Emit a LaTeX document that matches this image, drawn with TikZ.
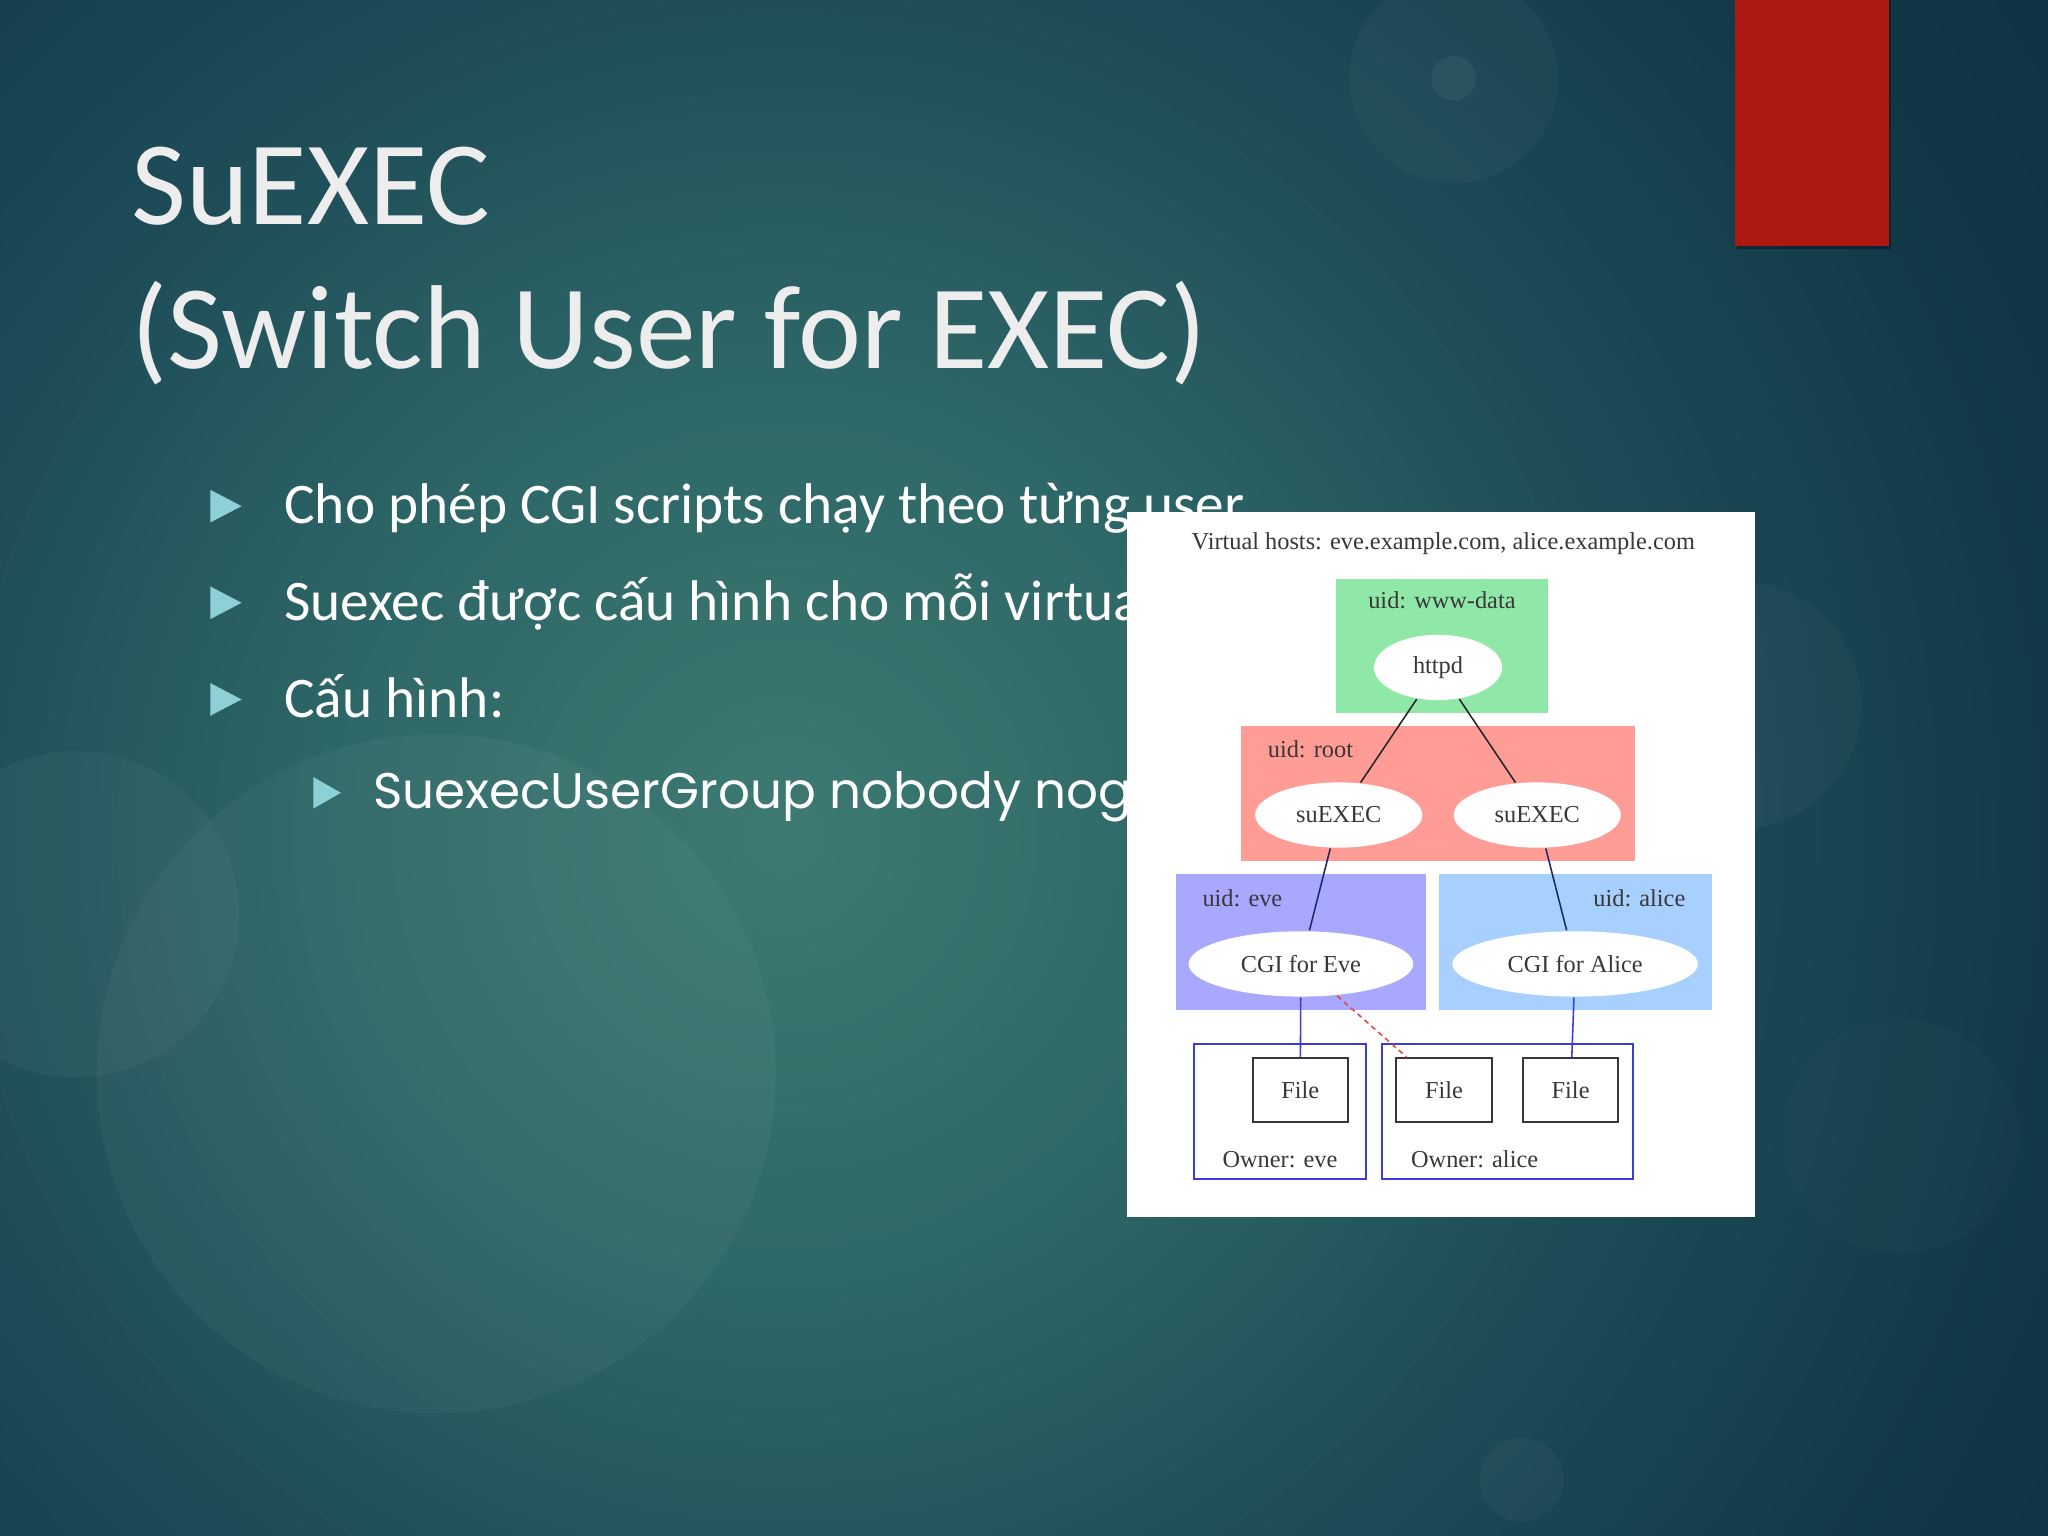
\documentclass[tikz,border=0pt]{standalone}
\usepackage{fontspec}
\setmainfont{Carlito}
\newfontfamily\geofont{Poppins}
\newfontfamily\diagfont{Liberation Serif}
\usetikzlibrary{shapes.geometric}
\newcommand\pxu{0.1mm}
\definecolor{bgA}{HTML}{3E7B72}
\definecolor{bgB}{HTML}{2E6767}
\definecolor{bgC}{HTML}{1C4A56}
\definecolor{bgD}{HTML}{123848}
\definecolor{bgE}{HTML}{0D3041}
\definecolor{bulc}{HTML}{8DD0D5}
\definecolor{redbar}{HTML}{AD1813}
\definecolor{grnbox}{HTML}{90E8A8}
\definecolor{redbox}{HTML}{FF9C96}
\definecolor{evebox}{HTML}{A8A8FF}
\definecolor{alicebox}{HTML}{A8D0FF}
\definecolor{dtxt}{HTML}{383838}
\definecolor{blueln}{HTML}{3C3CDC}
\definecolor{navyln}{HTML}{1E2A66}
\definecolor{dashred}{HTML}{E04848}
\tikzset{
  titletext/.style={text=white!93!black, font=\fontsize{26pt}{30pt}\selectfont, inner sep=0pt, anchor=base west},
  bodytext/.style={text=white, font=\fontsize{12.5pt}{15pt}\selectfont, inner sep=0pt, anchor=base west},
  subtext/.style={text=white, font=\geofont\fontsize{10.9pt}{13pt}\selectfont, inner sep=0pt, anchor=base west},
  dtext/.style={text=dtxt, font=\diagfont\fontsize{5.3pt}{6pt}\selectfont, inner sep=0pt},
  cluster/.style={rectangle, inner sep=0pt, draw=none},
  oval/.style={ellipse, fill=white, draw=none, inner sep=0pt, text=dtxt, font=\diagfont\fontsize{5.3pt}{6pt}\selectfont},
  filebox/.style={rectangle, fill=white, draw=dtxt, line width=1.5*\pxu, inner sep=0pt, text=dtxt, font=\diagfont\fontsize{5.3pt}{6pt}\selectfont, minimum width=73*\pxu, minimum height=49*\pxu},
  ownerbox/.style={rectangle, fill=white, draw=blueln, line width=1.5*\pxu, inner sep=0pt},
  edge/.style={line width=1.2*\pxu, draw=black!85},
  edgenavy/.style={line width=1.2*\pxu, draw=navyln},
  edgeblue/.style={line width=1.2*\pxu, draw=blueln},
  edgedash/.style={line width=1.2*\pxu, draw=dashred, dash pattern=on 4*\pxu off 3*\pxu},
  bokeh/.style={fill=white, opacity=#1},
}
\begin{document}
\begin{tikzpicture}[x=0.1mm, y=-0.1mm]
\useasboundingbox (0,0) rectangle (1568,1176);
% background
\begin{scope}
\clip (0,0) rectangle (1568,1176);
\fill[bgE] (0,0) rectangle (1568,1176);
\foreach \rr in {1500,1485,...,0}{
  \pgfmathtruncatemacro\seg{\rr>1000 ? 4 : (\rr>700 ? 3 : (\rr>350 ? 2 : 1))}
  \ifcase\seg\or
    \pgfmathtruncatemacro\tv{(350-\rr)/3.5}\colorlet{cc}{bgA!\tv!bgB}
  \or
    \pgfmathtruncatemacro\tv{(700-\rr)/3.5}\colorlet{cc}{bgB!\tv!bgC}
  \or
    \pgfmathtruncatemacro\tv{(1000-\rr)/3}\colorlet{cc}{bgC!\tv!bgD}
  \or
    \pgfmathtruncatemacro\tv{max(0,(1300-\rr)/3)}\colorlet{cc}{bgD!\tv!bgE}
  \fi
  \fill[cc] (600,640) circle (\rr);
}
\fill[bokeh=0.035] (334,822) circle (260);
\fill[bokeh=0.035] (58,700) circle (125);
\fill[bokeh=0.03] (1113,60) circle (80);
\fill[bokeh=0.05] (1113,60) circle (17);
\fill[bokeh=0.03] (1330,540) circle (95);
\fill[bokeh=0.03] (1165,1133) circle (32);
\fill[bokeh=0.015] (1455,870) circle (90);
\end{scope}
% red bar with shadow
\fill[black, opacity=0.35] (1330,0) rectangle (1448,191);
\fill[redbar] (1328,0) rectangle (1446,188);
% title
\node[titletext] (t1) at (100,172) {SuEXEC};
\node[titletext] (t2) at (100,282) {(Switch User for EXEC)};
% bullets
\fill[bulc] (161,375) -- (185,387.5) -- (161,400) -- cycle;
\fill[bulc] (161,449) -- (185,461.5) -- (161,474) -- cycle;
\fill[bulc] (161,523) -- (185,535.5) -- (161,548) -- cycle;
\fill[bulc] (240,595) -- (261,607) -- (240,619) -- cycle;
\node[bodytext] (b1) at (217,401) {Cho phép CGI scripts chạy theo từng user};
\node[bodytext] (b2) at (217,475) {Suexec được cấu hình cho mỗi virtual};
\node[bodytext] (b3) at (217,549) {Cấu hình:};
\node[subtext] (b4) at (285,619) {SuexecUserGroup nobody nog};
% diagram panel
\fill[white] (863,392) rectangle (1344,932);
\node[dtext] (vh) at (1105,416.5) {Virtual hosts: eve.example.com, alice.example.com};
% clusters
\node[cluster, fill=grnbox, minimum width=162*\pxu, minimum height=103*\pxu] (cw) at (1104,494.5) {};
\node[cluster, fill=redbox, minimum width=302*\pxu, minimum height=103*\pxu] (cr) at (1101,607.5) {};
\node[cluster, fill=evebox, minimum width=192*\pxu, minimum height=104*\pxu] (ce) at (996,721) {};
\node[cluster, fill=alicebox, minimum width=209*\pxu, minimum height=104*\pxu] (ca) at (1206.5,721) {};
\node[ownerbox, minimum width=132*\pxu, minimum height=104*\pxu] (oe) at (980,851) {};
\node[ownerbox, minimum width=192*\pxu, minimum height=104*\pxu] (oa) at (1154,851) {};
% cluster labels
\node[dtext] (lw) at (1104,459.5) {uid: www-data};
\node[dtext, anchor=west] (lr) at (970,573.5) {uid: root};
\node[dtext, anchor=west] (le) at (920,687.5) {uid: eve};
\node[dtext, anchor=east] (la) at (1291,687.5) {uid: alice};
\node[dtext] (loe) at (980,887.5) {Owner: eve};
\node[dtext] (loa) at (1129,887.5) {Owner: alice};
% process nodes
\node[oval, minimum width=98*\pxu, minimum height=50*\pxu] (httpd) at (1101,511) {httpd};
\node[oval, minimum width=128*\pxu, minimum height=50*\pxu] (suL) at (1025,624) {suEXEC};
\node[oval, minimum width=128*\pxu, minimum height=50*\pxu] (suR) at (1177,624) {suEXEC};
\node[oval, minimum width=172*\pxu, minimum height=50*\pxu] (cgiE) at (996,738) {CGI for Eve};
\node[oval, minimum width=188*\pxu, minimum height=50*\pxu] (cgiA) at (1206,738) {CGI for Alice};
% files
\node[filebox] (f1) at (995.5,834.5) {File};
\node[filebox] (f2) at (1105.5,834.5) {File};
\node[filebox] (f3) at (1202.5,834.5) {File};
% edges
\draw[edge] (httpd) -- (suL);
\draw[edge] (httpd) -- (suR);
\draw[edgenavy] (suL) -- (cgiE);
\draw[edgenavy] (suR) -- (cgiA);
\draw[edgeblue] (cgiE) -- (f1);
\draw[edgeblue] (cgiA) -- (f3);
\draw[edgedash] (cgiE) -- (f2);
\end{tikzpicture}
\end{document}
